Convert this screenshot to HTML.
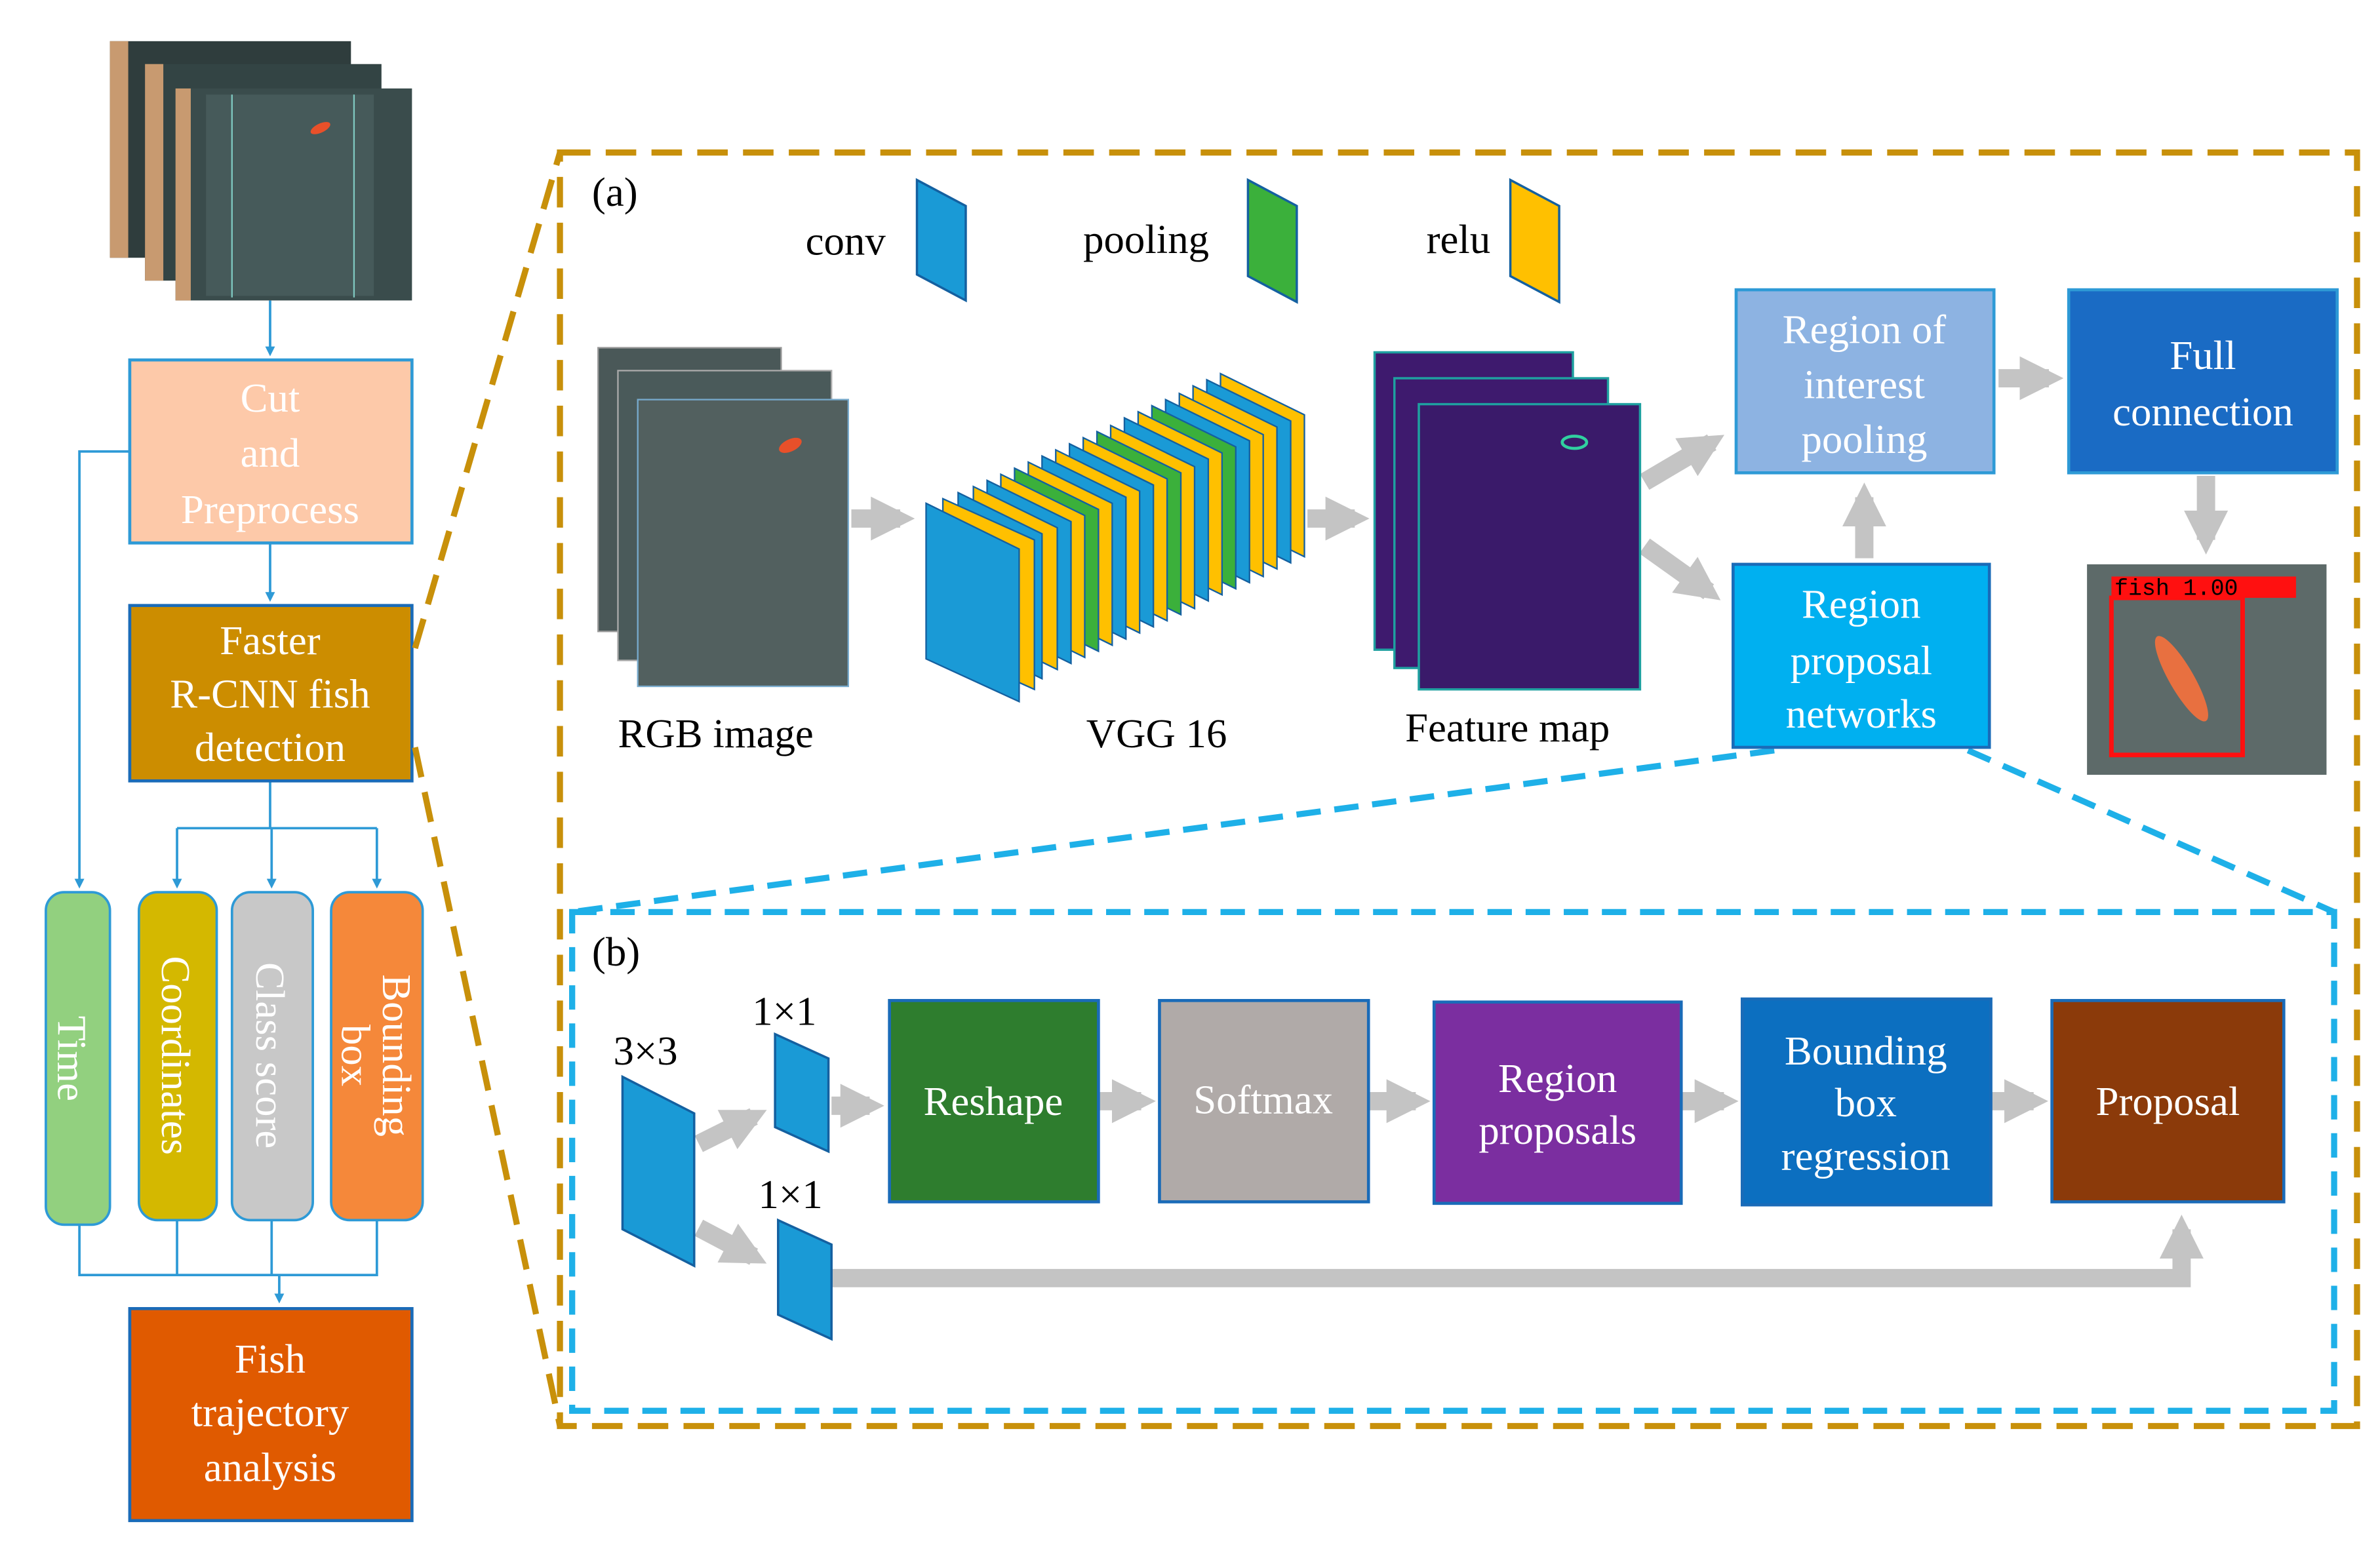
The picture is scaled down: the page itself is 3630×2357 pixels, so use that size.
<!DOCTYPE html>
<html><head><meta charset="utf-8"><style>html,body{margin:0;padding:0;background:#fff}svg{display:block}</style></head><body>
<svg width="3630" height="2357" viewBox="0 0 1560 1013" xmlns="http://www.w3.org/2000/svg" font-family="'Liberation Serif', serif">
<defs>
<marker id="ab" markerWidth="4" markerHeight="4" refX="3" refY="2" orient="auto" markerUnits="strokeWidth"><path d="M0,0 L4,2 L0,4 z" fill="#2e9ad6"/></marker>
<marker id="ag" markerWidth="2.4" markerHeight="2.4" refX="1.6" refY="1.2" orient="auto" markerUnits="strokeWidth"><path d="M0,0 L2.4,1.2 L0,2.4 z" fill="#c4c4c4"/></marker>
</defs>
<rect width="1560" height="1013" fill="#fff"/>

<!-- left photo stack -->
<g>
<rect x="72" y="27" width="158" height="142" fill="#2f3d3d"/><rect x="72" y="27" width="12" height="142" fill="#c89a70"/>
<rect x="95" y="42" width="155" height="142" fill="#334444"/><rect x="95" y="42" width="12" height="142" fill="#c89a70"/>
<rect x="115" y="58" width="155" height="139" fill="#3a4c4c"/><rect x="115" y="58" width="10" height="139" fill="#c89a70"/>
<rect x="135" y="62" width="110" height="132" fill="#465a5a"/>
<line x1="152" y1="62" x2="152" y2="195" stroke="#7fc8c0" stroke-width="1"/><line x1="232" y1="62" x2="232" y2="195" stroke="#7fc8c0" stroke-width="1"/>
<ellipse cx="210" cy="84" rx="7" ry="3" fill="#e8502a" transform="rotate(-25 210 84)"/>
</g>
<g stroke="#2e9ad6" stroke-width="1.6" fill="none">
<line x1="177" y1="197" x2="177" y2="232" marker-end="url(#ab)"/>
<line x1="177" y1="356" x2="177" y2="393" marker-end="url(#ab)"/>
<polyline points="85,296 52,296 52,581" marker-end="url(#ab)"/>
<line x1="177" y1="512" x2="177" y2="543"/>
<line x1="116" y1="543" x2="247" y2="543"/>
<line x1="116" y1="543" x2="116" y2="581" marker-end="url(#ab)"/>
<line x1="178" y1="543" x2="178" y2="581" marker-end="url(#ab)"/>
<line x1="247" y1="543" x2="247" y2="581" marker-end="url(#ab)"/>
<polyline points="52,803 52,836 247,836 247,800"/>
<line x1="116" y1="800" x2="116" y2="836"/>
<line x1="178" y1="800" x2="178" y2="836"/>
<line x1="183" y1="836" x2="183" y2="853" marker-end="url(#ab)"/>
</g>
<rect x="85" y="236" width="185" height="120" fill="#fdc9a9" stroke="#2e9ad6" stroke-width="2"/>
<g fill="#fff" font-size="27" text-anchor="middle"><text x="177" y="270">Cut</text><text x="177" y="306">and</text><text x="177" y="343">Preprocess</text></g>
<rect x="85" y="397" width="185" height="115" fill="#cc8d00" stroke="#1a6bb8" stroke-width="2"/>
<g fill="#fff" font-size="27" text-anchor="middle"><text x="177" y="429">Faster</text><text x="177" y="464">R-CNN fish</text><text x="177" y="499">detection</text></g>
<rect x="30" y="585" width="42" height="218" rx="12" fill="#92d07f" stroke="#2e9ad6" stroke-width="1.6"/>
<rect x="91" y="585" width="51" height="215" rx="12" fill="#d4b800" stroke="#2e9ad6" stroke-width="1.6"/>
<rect x="152" y="585" width="53" height="215" rx="12" fill="#c8c8c8" stroke="#2e9ad6" stroke-width="1.6"/>
<rect x="217" y="585" width="60" height="215" rx="12" fill="#f5883a" stroke="#2e9ad6" stroke-width="1.6"/>
<g fill="#fff" font-size="27" text-anchor="middle">
<text transform="translate(38,694) rotate(90)">Time</text>
<text transform="translate(106,692) rotate(90)">Coordinates</text>
<text transform="translate(168,692) rotate(90)">Class score</text>
<text transform="translate(251,692) rotate(90)">Bounding</text>
<text transform="translate(224,692) rotate(90)">box</text>
</g>
<rect x="85" y="858" width="185" height="139" fill="#e05a00" stroke="#1a6bb8" stroke-width="2"/>
<g fill="#fff" font-size="27" text-anchor="middle"><text x="177" y="900">Fish</text><text x="177" y="935">trajectory</text><text x="177" y="971">analysis</text></g>

<!-- dashed frames -->
<g stroke="#c8900a" stroke-width="4" stroke-dasharray="20,10" fill="none">
<line x1="272" y1="425" x2="367" y2="100"/>
<line x1="272" y1="490" x2="367" y2="935"/>
<rect x="367" y="100" width="1178" height="835"/>
</g>
<g stroke="#1eb0e8" stroke-width="4" stroke-dasharray="16,9" fill="none">
<rect x="375" y="598" width="1155" height="327"/>
<line x1="1163" y1="492" x2="375" y2="598"/>
<line x1="1290" y1="492" x2="1530" y2="598"/>
</g>

<g font-size="27" fill="#000">
<text x="388" y="135">(a)</text><text x="388" y="633">(b)</text>
<text x="528" y="167">conv</text><text x="710" y="166">pooling</text><text x="935" y="166">relu</text>
<text x="405" y="490">RGB image</text><text x="712" y="490">VGG 16</text><text x="921" y="486">Feature map</text>
<text x="402" y="698">3×3</text><text x="493" y="672">1×1</text><text x="497" y="792">1×1</text>
</g>
<polygon points="601,118 633,135 633,197 601,180" fill="#1a9ad6" stroke="#1460a0" stroke-width="1.5"/>
<polygon points="818,118 850,135 850,198 818,181" fill="#3bb03b" stroke="#1460a0" stroke-width="1.5"/>
<polygon points="990,118 1022,135 1022,198 990,181" fill="#ffc000" stroke="#1460a0" stroke-width="1.5"/>

<!-- RGB stack -->
<rect x="392" y="228" width="120" height="186" fill="#4a5858" stroke="#999" stroke-width="1"/>
<rect x="405" y="243" width="140" height="190" fill="#4a5a5a" stroke="#aaa" stroke-width="1"/>
<rect x="418" y="262" width="138" height="188" fill="#52605f" stroke="#7ac" stroke-width="1"/>
<ellipse cx="518" cy="292" rx="8" ry="4" fill="#e8502a" transform="rotate(-25 518 292)"/>

<!-- gray arrows -->
<g stroke="#c4c4c4" stroke-width="12" fill="none">
<line x1="558" y1="340" x2="590" y2="340" marker-end="url(#ag)"/>
<line x1="857" y1="340" x2="888" y2="340" marker-end="url(#ag)"/>
<line x1="1078" y1="316" x2="1122" y2="290" marker-end="url(#ag)"/>
<line x1="1078" y1="358" x2="1120" y2="388" marker-end="url(#ag)"/>
<line x1="1310" y1="248" x2="1343" y2="248" marker-end="url(#ag)"/>
<line x1="1222" y1="366" x2="1222" y2="326" marker-end="url(#ag)"/>
<line x1="1446" y1="312" x2="1446" y2="354" marker-end="url(#ag)"/>
<line x1="458" y1="750" x2="494" y2="732" marker-end="url(#ag)"/>
<line x1="458" y1="805" x2="494" y2="824" marker-end="url(#ag)"/>
<line x1="545" y1="725" x2="570" y2="725" marker-end="url(#ag)"/>
<line x1="720" y1="722" x2="748" y2="722" marker-end="url(#ag)"/>
<line x1="897" y1="722" x2="928" y2="722" marker-end="url(#ag)"/>
<line x1="1102" y1="722" x2="1130" y2="722" marker-end="url(#ag)"/>
<line x1="1305" y1="722" x2="1333" y2="722" marker-end="url(#ag)"/>
<polyline points="545,838 1430,838 1430,806" marker-end="url(#ag)"/>
</g>

<!-- VGG layers -->
<g stroke="#1460a0" stroke-width="1">
<polygon points="800,245 855,272 855,365 800,338" fill="#ffc000"/>
<polygon points="791,249 846,276 846,369 791,342" fill="#1a9ad6"/>
<polygon points="782,253 837,280 837,373 782,346" fill="#ffc000"/>
<polygon points="773,258 828,285 828,378 773,351" fill="#ffc000"/>
<polygon points="764,262 819,289 819,382 764,355" fill="#1a9ad6"/>
<polygon points="755,266 810,293 810,386 755,359" fill="#3bb03b"/>
<polygon points="746,270 801,297 801,390 746,363" fill="#ffc000"/>
<polygon points="737,274 792,301 792,394 737,367" fill="#1a9ad6"/>
<polygon points="728,279 783,306 783,399 728,372" fill="#ffc000"/>
<polygon points="719,283 774,310 774,403 719,376" fill="#3bb03b"/>
<polygon points="710,287 765,314 765,407 710,380" fill="#ffc000"/>
<polygon points="701,291 756,318 756,411 701,384" fill="#1a9ad6"/>
<polygon points="692,295 747,322 747,415 692,388" fill="#ffc000"/>
<polygon points="683,299 738,326 738,419 683,392" fill="#1a9ad6"/>
<polygon points="674,303 729,330 729,423 674,396" fill="#ffc000"/>
<polygon points="665,307 720,334 720,427 665,400" fill="#3bb03b"/>
<polygon points="656,311 711,338 711,431 656,404" fill="#ffc000"/>
<polygon points="647,315 702,342 702,435 647,408" fill="#1a9ad6"/>
<polygon points="638,319 693,346 693,439 638,412" fill="#ffc000"/>
<polygon points="628,323 683,350 683,445 628,418" fill="#1a9ad6"/>
<polygon points="618,327 678,354 678,452 618,425" fill="#ffc000"/>
<polygon points="607,330 668,360 668,460 607,432" fill="#1a9ad6"/>
</g>

<!-- feature maps -->
<rect x="901" y="231" width="130" height="195" fill="#3e1a6e" stroke="#1fa0a0" stroke-width="1.5"/>
<rect x="914" y="248" width="140" height="190" fill="#3e1a6e" stroke="#1fa0a0" stroke-width="1.5"/>
<rect x="930" y="265" width="145" height="187" fill="#3a1a6a" stroke="#1fa0a0" stroke-width="1.5"/>
<ellipse cx="1032" cy="290" rx="8" ry="4" fill="none" stroke="#30d0a0" stroke-width="2"/>

<!-- boxes (a) -->
<rect x="1138" y="190" width="169" height="120" fill="#8db3e2" stroke="#2e9ad6" stroke-width="2"/>
<g fill="#fff" font-size="27" text-anchor="middle"><text x="1222" y="225">Region of</text><text x="1222" y="261">interest</text><text x="1222" y="297">pooling</text></g>
<rect x="1356" y="190" width="176" height="120" fill="#1a6bc4" stroke="#2e9ad6" stroke-width="2"/>
<g fill="#fff" font-size="27" text-anchor="middle"><text x="1444" y="242">Full</text><text x="1444" y="279">connection</text></g>
<rect x="1136" y="370" width="168" height="120" fill="#00b0f0" stroke="#1a6bb8" stroke-width="2"/>
<g fill="#fff" font-size="27" text-anchor="middle"><text x="1220" y="405">Region</text><text x="1220" y="442">proposal</text><text x="1220" y="477">networks</text></g>
<rect x="1368" y="370" width="157" height="138" fill="#5d6a69"/>
<rect x="1384" y="392" width="86" height="103" fill="none" stroke="#ff1010" stroke-width="3"/>
<rect x="1384" y="378" width="121" height="14" fill="#ff1010"/>
<text x="1386" y="390" font-family="'Liberation Mono', monospace" font-size="15" fill="#000">fish 1.00</text>
<ellipse cx="1430" cy="445" rx="8" ry="32" fill="#e87040" transform="rotate(-30 1430 445)"/>

<!-- (b) -->
<polygon points="408,706 455,730 455,830 408,806" fill="#1a9ad6" stroke="#1460a0" stroke-width="1.5"/>
<polygon points="508,678 543,694 543,755 508,739" fill="#1a9ad6" stroke="#1460a0" stroke-width="1.5"/>
<polygon points="510,800 545,816 545,878 510,862" fill="#1a9ad6" stroke="#1460a0" stroke-width="1.5"/>
<rect x="583" y="656" width="137" height="132" fill="#2e7d2e" stroke="#1a6bb8" stroke-width="2"/>
<rect x="760" y="656" width="137" height="132" fill="#b0aaa8" stroke="#1a6bb8" stroke-width="2"/>
<rect x="940" y="657" width="162" height="132" fill="#7b2ea0" stroke="#1a6bb8" stroke-width="2"/>
<rect x="1142" y="655" width="163" height="135" fill="#0c6fc0" stroke="#1a6bb8" stroke-width="2"/>
<rect x="1345" y="656" width="152" height="132" fill="#8b3a0a" stroke="#1a6bb8" stroke-width="2"/>
<g fill="#fff" font-size="27" text-anchor="middle">
<text x="651" y="731">Reshape</text><text x="828" y="730">Softmax</text>
<text x="1021" y="716">Region</text><text x="1021" y="750">proposals</text>
<text x="1223" y="698">Bounding</text><text x="1223" y="732">box</text><text x="1223" y="767">regression</text>
<text x="1421" y="731">Proposal</text>
</g>
</svg>
</body></html>
